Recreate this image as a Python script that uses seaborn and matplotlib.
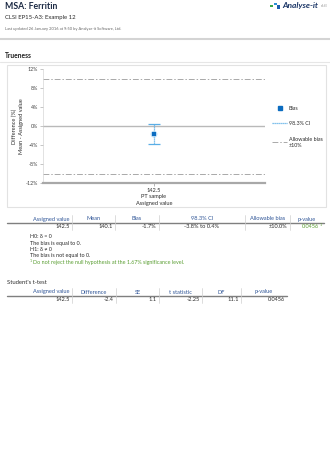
import matplotlib
matplotlib.use("Agg")
import matplotlib.pyplot as plt
from matplotlib.patches import Rectangle
from matplotlib.lines import Line2D
import seaborn as sns
import pandas as pd

# ---------------- data ----------------
categories = ["142.5\nPT sample\nAssigned value"]
bias = [-1.7]
ci_low = [-3.8]
ci_high = [0.4]
allowable = 10.0
yticks = [-12, -8, -4, 0, 4, 8, 12]

table1_headers = ["Assigned value", "Mean", "Bias", "98.3% CI", "Allowable bias", "p-value"]
table1_values = ["142.5", "140.1", "-1.7%", "-3.8% to 0.4%", "±10.0%", "0.0456"]
table2_headers = ["Assigned value", "Difference", "SE", "t statistic", "DF", "p-value"]
table2_values = ["142.5", "-2.4", "1.1", "-2.25", "11.1", "0.0456"]
notes = ["H0: δ = 0", "The bias is equal to 0.", "H1: δ ≠ 0", "The bias is not equal to 0."]
footnote = "Do not reject the null hypothesis at the 1.67% significance level."

# ---------------- style ----------------
sns.set_theme(style="white")
plt.rcParams["font.family"] = ["Lato", "DejaVu Sans"]

W, H = 330, 454
fig = plt.figure(figsize=(W / 100, H / 100), dpi=100)
fig.patch.set_facecolor("white")

bg = fig.add_axes([0, 0, 1, 1], zorder=0)
bg.set_xlim(0, W)
bg.set_ylim(H, 0)
bg.axis("off")

DARK = "#2b2b2b"
HEAD = "#2f5597"
GREEN = "#5a9e32"

# ---------------- page header ----------------
bg.text(5, 6.5, "MSA: Ferritin", fontsize=6.3, fontweight="bold", color="#1c2a44", va="center")
bg.text(5, 17, "CLSI EP15-A3: Example 12", fontsize=4.3, color=DARK, va="center")
bg.text(5, 29, "Last updated 26 January 2016 at 9:50 by Analyse-it Software, Ltd.",
        fontsize=2.9, color="#666666", va="center")
bg.plot([0, W], [39, 39], color="#d4d4d4", lw=1.5)
bg.text(5, 56, "Trueness", fontsize=4.8, fontweight="bold", color="#1c1c1c", va="center")
bg.plot([0, W], [61.5, 61.5], color="#e6e6e6", lw=0.8)

# logo
bg.add_patch(Rectangle((270, 4.5), 2.5, 2.5, color="#3aa64a", lw=0))
bg.add_patch(Rectangle((274, 2.5), 2.5, 2.5, color="#2a8fd6", lw=0))
bg.add_patch(Rectangle((276.5, 5), 3.5, 3.5, color="#1c5fb0", lw=0))
bg.text(282, 5.5, "Analyse-it", fontsize=6.0, fontweight="bold", fontstyle="italic",
        color="#1a3566", va="center")
bg.text(321, 6, "v4.60", fontsize=2.0, color="#999999", va="center")

# chart panel border
bg.add_patch(Rectangle((7, 65), 319, 142, fill=False, ec="#e2e2e2", lw=0.8))

# ---------------- chart ----------------
x0, x1, ytop, ybot = 43, 265, 69.3, 183
ax = fig.add_axes([x0 / W, 1 - ybot / H, (x1 - x0) / W, (ybot - ytop) / H], zorder=2)
ax.set_facecolor("none")

df = pd.DataFrame({"sample": categories, "bias": bias, "lo": ci_low, "hi": ci_high})

ax.axhline(0, color="#b9b9b9", lw=1.0, zorder=1)
for v in (allowable, -allowable):
    ax.axhline(v, color="#a9a9a9", lw=0.7, ls=(0, (6, 2, 1.5, 2)), zorder=1)

eb = ax.errorbar(x=[0], y=df["bias"], yerr=[df["bias"] - df["lo"], df["hi"] - df["bias"]],
                 fmt="none", ecolor="#5aaee6", elinewidth=0.9, capsize=4.5, capthick=0.9, zorder=3)
eb[2][0].set_linestyle((0, (1, 0.6)))
sns.scatterplot(data=df, x="sample", y="bias", ax=ax, marker="o", s=24, color="#a8d3f2",
                edgecolor="none", alpha=0.8, zorder=4, legend=False)
sns.scatterplot(data=df, x="sample", y="bias", ax=ax, marker="s", s=8, color="#0b6cc0",
                edgecolor="none", zorder=5, legend=False)

ax.set_xlim(-0.5, 0.5)
ax.set_ylim(-12, 12)
ax.set_yticks(yticks)
ax.set_yticklabels([f"{t}%" for t in yticks], fontsize=3.8, color="#444444")
ax.set_xticks([0])
ax.set_xticklabels(categories, fontsize=4.1, color=DARK, linespacing=1.35)
ax.tick_params(axis="y", length=2, width=0.4, color="#999999", pad=1.5, left=True)
ax.tick_params(axis="x", length=2, width=0.5, color="#999999", pad=1.5, bottom=True)
ax.set_xlabel("")
ax.set_ylabel("Difference (%)\nMean - Assigned value", fontsize=4.1, color=DARK,
              labelpad=1.5, linespacing=1.3)
for s in ("top", "right"):
    ax.spines[s].set_visible(False)
ax.spines["left"].set_color("#cccccc")
ax.spines["left"].set_linewidth(0.4)
ax.spines["bottom"].set_color("#a8a8a8")
ax.spines["bottom"].set_linewidth(1.6)

handles = [
    Line2D([], [], marker="s", color="#0b6cc0", ls="none", markersize=2.6),
    Line2D([], [], color="#5aaee6", lw=0.9, ls=(0, (1, 0.6))),
    Line2D([], [], color="#a9a9a9", lw=0.7, ls=(0, (6, 2, 1.5, 2))),
]
labels = ["Bias", "98.3% CI", "Allowable bias\n±10%"]
leg = ax.legend(handles, labels, loc="upper left", bbox_to_anchor=(270 / W, 1 - 103.5 / H),
                bbox_transform=fig.transFigure, frameon=False, fontsize=3.9,
                handlelength=2.8, handletextpad=0.3, labelspacing=1.95, borderaxespad=0)
for t in leg.get_texts():
    t.set_color(DARK)

# ---------------- tables ----------------
def draw_table(edges, headers, values, y_head, y_line, y_val, center_cols=(), value_colors=None,
               last_pad=2.5):
    bg.plot([edges[0], edges[-1]], [y_line, y_line], color="#7f7f7f", lw=1.0)
    for xe in edges[1:-1]:
        bg.plot([xe, xe], [y_head - 4, y_val + 3.5], color="#cfcfcf", lw=0.5)
    n = len(headers)
    for i, (h, v) in enumerate(zip(headers, values)):
        l, r = edges[i], edges[i + 1]
        if i == 0:
            bg.text(r - 2.5, y_head, h, fontsize=4.1, color=HEAD, ha="right", va="center")
        else:
            bg.text((l + r) / 2, y_head, h, fontsize=4.1, color=HEAD, ha="center", va="center")
        col = value_colors[i] if value_colors else DARK
        pad = last_pad if i == n - 1 else 2.5
        if i in center_cols:
            bg.text((l + r) / 2, y_val, v, fontsize=4.1, color=col, ha="center", va="center")
        else:
            bg.text(r - pad, y_val, v, fontsize=4.1, color=col, ha="right", va="center")


t1_edges = [7, 72, 115, 159, 245, 290, 324]
vc = [DARK] * 5 + [GREEN]
draw_table(t1_edges, table1_headers, table1_values, 219, 222.5, 226.5,
           center_cols=(3,), value_colors=vc, last_pad=5.0)
bg.text(t1_edges[-1] - 4.2, 225.0, "1", fontsize=2.6, color=GREEN, ha="left", va="center")

ny = [236.5, 243, 249.5, 256]
for yy, txt in zip(ny, notes):
    bg.text(30, yy, txt, fontsize=3.9, color=DARK, va="center")
bg.text(29.5, 261.5, "1", fontsize=2.6, color=GREEN, va="center")
bg.text(33, 262.5, footnote, fontsize=3.9, color=GREEN, va="center")

bg.text(7, 282, "Student's t-test", fontsize=4.2, color=DARK, va="center")
t2_edges = [7, 72, 116, 159, 202, 241, 287]
draw_table(t2_edges, table2_headers, table2_values, 292, 295.5, 299.5)

fig.savefig("out.png", dpi=100, facecolor="white")
